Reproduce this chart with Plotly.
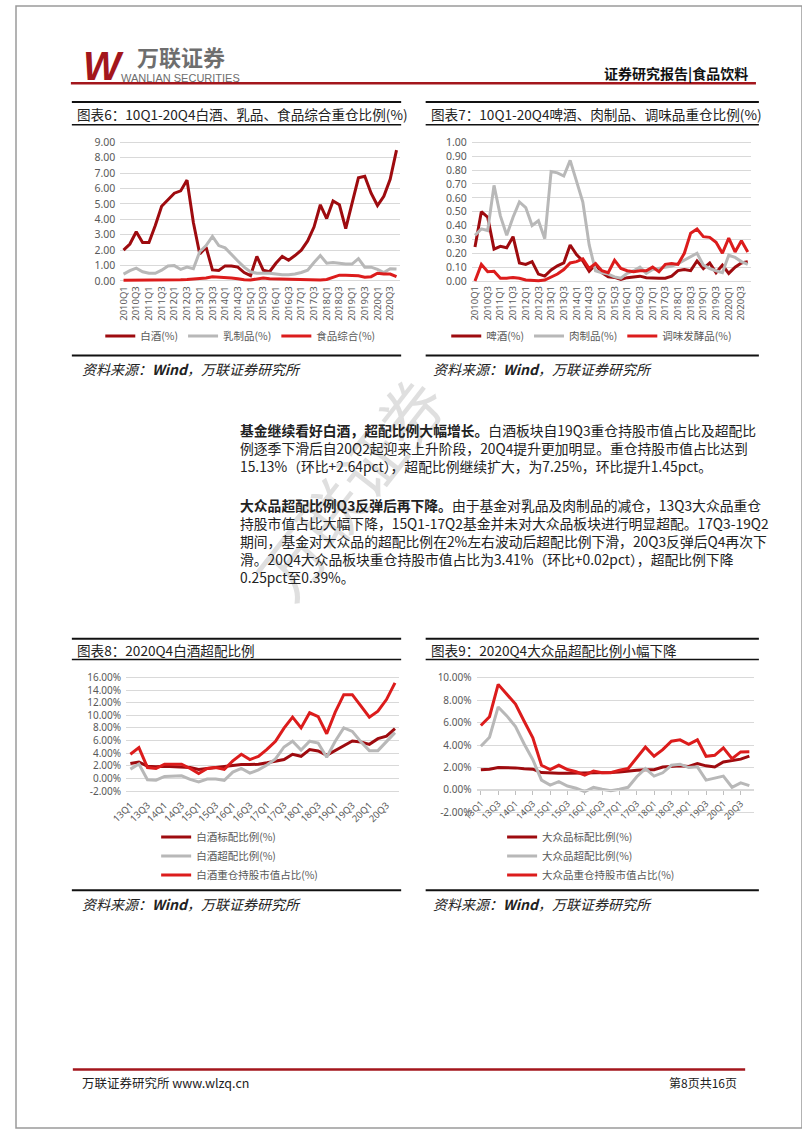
import plotly.graph_objects as go

W, H = 802, 1133
def fx(px): return px / W
def fy(py): return 1 - py / H

FONT = "Noto Sans CJK SC, Noto Sans, sans-serif"
NUMFONT = "Noto Sans, DejaVu Sans, sans-serif"
DARK = "#9E0B0F"
RED = "#DC1C1C"
GRAY = "#B8B8B8"
GRID = "#D9D9D9"
TXT = "#595959"

# ---------------- data ----------------
quarters_6 = [f"{y}Q{q}" for y in range(2010, 2021) for q in range(1, 5)]
xticks_6 = quarters_6[::2]

baijiu_6 = [2.0, 2.4, 3.2, 2.5, 2.5, 3.6, 4.85, 5.3, 5.7, 5.85, 6.55, 3.8, 1.75, 2.2, 0.72, 0.68,
            0.98, 0.98, 0.9, 0.55, 0.35, 1.6, 0.7, 0.6, 1.15, 1.6, 1.35, 1.65, 2.0, 2.6, 3.5, 4.95,
            4.05, 5.2, 4.95, 3.4, 5.0, 6.7, 6.8, 5.7, 4.9, 5.5, 6.6, 8.5]
dairy_6 = [0.45, 0.67, 0.83, 0.6, 0.5, 0.5, 0.7, 0.98, 1.0, 0.75, 0.9, 0.8, 1.9, 2.3, 2.9, 2.3,
           2.15, 1.7, 1.3, 0.9, 0.6, 0.5, 0.5, 0.5, 0.45, 0.4, 0.4, 0.45, 0.55, 0.7, 1.2, 1.65,
           1.15, 1.2, 1.15, 1.1, 1.1, 1.45, 0.9, 0.9, 0.75, 0.55, 0.8, 0.78]
food_6 = [0.05, 0.05, 0.05, 0.05, 0.05, 0.06, 0.06, 0.07, 0.08, 0.08, 0.1, 0.12, 0.15, 0.2, 0.28, 0.26,
          0.22, 0.2, 0.15, 0.08, 0.06, 0.15, 0.2, 0.15, 0.14, 0.12, 0.11, 0.1, 0.08, 0.07, 0.07, 0.07,
          0.1, 0.25, 0.38, 0.37, 0.36, 0.34, 0.25, 0.28, 0.5, 0.45, 0.45, 0.28]

beer_7 = [0.245, 0.5, 0.46, 0.23, 0.25, 0.24, 0.32, 0.13, 0.12, 0.14, 0.05, 0.035, 0.08, 0.11, 0.13, 0.26,
          0.19, 0.145, 0.07, 0.12, 0.06, 0.03, 0.026, 0.012, 0.024, 0.03, 0.035, 0.024, 0.02, 0.02, 0.02, 0.035,
          0.075, 0.083, 0.075, 0.145, 0.09, 0.13, 0.06, 0.115, 0.055, 0.1, 0.13, 0.14]
meat_7 = [0.33, 0.376, 0.364, 0.69, 0.47, 0.33, 0.46, 0.57, 0.53, 0.4, 0.435, 0.305, 0.79, 0.78, 0.757, 0.87,
          0.72, 0.57, 0.26, 0.074, 0.06, 0.05, 0.03, 0.02, 0.055, 0.074, 0.1, 0.055, 0.083, 0.09, 0.1, 0.107,
          0.126, 0.15, 0.17, 0.2, 0.114, 0.09, 0.074, 0.06, 0.186, 0.17, 0.14, 0.12]
season_7 = [0.0, 0.12, 0.067, 0.07, 0.02, 0.02, 0.026, 0.02, 0.007, 0.002, 0.002, 0.007, 0.026, 0.05, 0.083, 0.13,
            0.14, 0.16, 0.09, 0.126, 0.074, 0.06, 0.15, 0.09, 0.074, 0.067, 0.074, 0.074, 0.1, 0.067, 0.12, 0.126,
            0.12, 0.2, 0.345, 0.375, 0.32, 0.315, 0.28, 0.2, 0.31, 0.21, 0.29, 0.21]

quarters_8 = [f"{y}Q{q}" for y in range(13, 21) for q in range(1, 5)]
xticks_8 = quarters_8[::2]

baijiu_std_8 = [2.36, 2.6, 1.94, 1.84, 1.94, 1.84, 1.84, 1.73, 1.42, 1.57, 1.73, 1.84, 1.94, 2.2, 2.2, 2.25,
                2.47, 2.78, 2.99, 3.83, 3.5, 4.56, 4.35, 3.67, 4.46, 5.25, 5.93, 5.77, 5.4, 6.3, 6.69, 7.88]
baijiu_over_8 = [1.47, 2.28, -0.21, -0.27, 0.31, 0.41, 0.41, -0.16, -0.55, -0.1, -0.1, -0.3, 1.0, 1.6, 0.85, 1.35,
                 2.13, 3.1, 4.98, 5.9, 4.5, 5.9, 5.6, 3.35, 5.9, 8.0, 7.45, 5.8, 4.4, 4.4, 5.8, 7.25]
baijiu_hold_8 = [3.83, 4.88, 1.73, 1.57, 2.25, 2.25, 2.25, 1.57, 0.79, 1.57, 1.73, 1.42, 2.78, 3.83, 2.99, 3.5,
                 4.6, 5.88, 7.97, 9.7, 8.0, 10.4, 9.8, 7.08, 10.5, 13.27, 13.27, 11.5, 9.7, 10.65, 12.49, 15.13]

mass_std_9 = [1.8, 1.85, 2.0, 2.0, 1.97, 1.9, 1.85, 1.55, 1.5, 1.5, 1.5, 1.5, 1.5, 1.5, 1.5, 1.55,
              1.6, 1.7, 1.75, 1.8, 1.8, 2.05, 2.1, 2.15, 2.1, 2.35, 2.15, 2.05, 2.5, 2.65, 2.75, 3.02]
mass_over_9 = [3.9, 4.7, 7.4, 6.6, 5.65, 4.1, 2.7, 0.88, 0.44, 0.74, 0.35, 0.15, -0.15, 0.24, 0.06, -0.06,
               0.06, 0.24, 1.18, 1.91, 1.24, 1.53, 2.2, 2.3, 2.0, 2.06, 0.88, 1.03, 1.24, 0.24, 0.64, 0.39]
mass_hold_9 = [5.74, 6.53, 9.41, 8.53, 7.65, 6.12, 4.65, 2.2, 1.82, 2.2, 1.82, 1.62, 1.32, 1.68, 1.53, 1.53,
               1.76, 1.91, 2.88, 3.82, 3.0, 3.59, 4.35, 4.47, 4.06, 4.47, 3.0, 3.09, 3.76, 2.79, 3.39, 3.41]

y6_vals = [0, 1, 2, 3, 4, 5, 6, 7, 8, 9]
y6_text = ["0.00", "1.00", "2.00", "3.00", "4.00", "5.00", "6.00", "7.00", "8.00", "9.00"]
y7_vals = [0, 0.1, 0.2, 0.3, 0.4, 0.5, 0.6, 0.7, 0.8, 0.9, 1.0]
y7_text = ["0.00", "0.10", "0.20", "0.30", "0.40", "0.50", "0.60", "0.70", "0.80", "0.90", "1.00"]
y8_vals = [-2, 0, 2, 4, 6, 8, 10, 12, 14, 16]
y8_text = ["-2.00%", "0.00%", "2.00%", "4.00%", "6.00%", "8.00%", "10.00%", "12.00%", "14.00%", "16.00%"]
y9_vals = [-2, 0, 2, 4, 6, 8, 10]
y9_text = ["-2.00%", "0.00%", "2.00%", "4.00%", "6.00%", "8.00%", "10.00%"]

fig = go.Figure()

def add(x, y, name, color, xa, ya, lg):
    fig.add_trace(go.Scatter(x=x, y=y, name=name, mode="lines",
                             line=dict(color=color, width=3), xaxis=xa, yaxis=ya,
                             legend=lg, hoverinfo="skip"))

add(quarters_6, baijiu_6, "白酒(%)", DARK, "x", "y", "legend")
add(quarters_6, dairy_6, "乳制品(%)", GRAY, "x", "y", "legend")
add(quarters_6, food_6, "食品综合(%)", RED, "x", "y", "legend")

add(quarters_6, beer_7, "啤酒(%)", DARK, "x2", "y2", "legend2")
add(quarters_6, meat_7, "肉制品(%)", GRAY, "x2", "y2", "legend2")
add(quarters_6, season_7, "调味发酵品(%)", RED, "x2", "y2", "legend2")

add(quarters_8, baijiu_std_8, "白酒标配比例(%)", DARK, "x3", "y3", "legend3")
add(quarters_8, baijiu_over_8, "白酒超配比例(%)", GRAY, "x3", "y3", "legend3")
add(quarters_8, baijiu_hold_8, "白酒重仓持股市值占比(%)", RED, "x3", "y3", "legend3")

add(quarters_8, mass_std_9, "大众品标配比例(%)", DARK, "x4", "y4", "legend4")
add(quarters_8, mass_over_9, "大众品超配比例(%)", GRAY, "x4", "y4", "legend4")
add(quarters_8, mass_hold_9, "大众品重仓持股市值占比(%)", RED, "x4", "y4", "legend4")

def xax(x0, x1, ticks_list, n, angle, anchor, size, **kw):
    d = dict(domain=[fx(x0), fx(x1)], type="category", range=[-0.5, n - 0.5],
             tickmode="array", tickvals=ticks_list, ticktext=ticks_list,
             tickangle=angle, tickfont=dict(family=NUMFONT, size=size, color=TXT),
             showgrid=False, zeroline=False, showline=False, ticks="",
             anchor=anchor, fixedrange=True)
    d.update(kw)
    return d

def yax(ytop, ybot, rng, vals, text, anchor, size=10.5):
    return dict(domain=[fy(ybot), fy(ytop)], range=rng, tickmode="array",
                tickvals=vals, ticktext=text, showgrid=True, gridcolor=GRID, gridwidth=1,
                zeroline=False, showline=False, ticks="", ticklabelstandoff=4,
                tickfont=dict(family=NUMFONT, size=size, color=TXT), anchor=anchor, fixedrange=True)

layout = dict(
    width=W, height=H, margin=dict(l=0, r=0, t=0, b=0),
    paper_bgcolor="white", plot_bgcolor="white", showlegend=True,
    font=dict(family=FONT, color=TXT),
    xaxis=xax(106.5, 391.5, xticks_6, 44, -90, "y", 9.5),
    yaxis=yax(135.37, 280.03, [-0.15, 9.15], y6_vals, y6_text, "x"),
    xaxis2=xax(465.1, 749.9, xticks_6, 44, -90, "y2", 9.5),
    yaxis2=yax(135.6, 279.8, [-0.015, 1.015], y7_vals, y7_text, "x2"),
    xaxis3=xax(112.35, 391.05, xticks_8, 32, -45, "y3", 9.5, ticklabelstandoff=4),
    yaxis3=yax(676.09, 794.66, [-2.3, 16.3], y8_vals, y8_text, "x3", 10),
    xaxis4=xax(469.9, 752.7, xticks_8, 32, -45, "free", 9, position=fy(791.67),
               showline=True, linecolor=GRID, ticks="outside", ticklen=4, tickcolor="#BFBFBF"),
    yaxis4=yax(676.07, 816.6, [-2.2, 10.2], y9_vals, y9_text, "x4", 10),
)

def leg(x, y, orient):
    return dict(x=fx(x), y=fy(y), xanchor="left", yanchor="top", orientation=orient,
                bgcolor="rgba(0,0,0,0)", borderwidth=0, traceorder="normal",
                font=dict(family=FONT, size=10.5, color=TXT))

layout["legend"] = leg(86, 318.5, "h")
layout["legend2"] = leg(439, 318.5, "h")
layout["legend3"] = leg(143, 824.5, "v")
layout["legend4"] = leg(496, 824.5, "v")

fig.update_layout(**layout)

shapes = []
def hline(x0, x1, y, color="#111111", w=2):
    shapes.append(dict(type="line", xref="paper", yref="paper", x0=fx(x0), x1=fx(x1),
                       y0=fy(y), y1=fy(y), line=dict(color=color, width=w)))

# page border
shapes.append(dict(type="rect", xref="paper", yref="paper", x0=0, x1=1, y0=0, y1=1,
                   line=dict(color="#9a9a9a", width=1.5)))
# header / footer rules
hline(56, 755, 78, "#A3161C", 2.5)
hline(58, 744, 1074, "#A3161C", 2.5)
# chart frames
for (a, b) in [(57, 393), (418, 758)]:
    hline(a, b, 97, "#111111", 2)
    hline(a, b, 120, "#111111", 1.5)
    hline(a, b, 353, "#111111", 2)
    hline(a, b, 639, "#111111", 2)
    hline(a, b, 660, "#111111", 1.5)
    hline(a, b, 893, "#111111", 2)

ann = []
def text(x, y, s, size, color="#222222", anchor="left", family=FONT, angle=0, yanchor="middle", align="left"):
    ann.append(dict(xref="paper", yref="paper", x=fx(x), y=fy(y), text=s, showarrow=False,
                    xanchor=anchor, yanchor=yanchor, textangle=angle, borderpad=0, align=align,
                    font=dict(family=family, size=size, color=color)))

# header
text(89, 61, "<b><i>W</i></b>", 40, "#A3161C", "center", "Liberation Sans, Arial, sans-serif")
text(168, 50.5, "<b>万联证券</b>", 22, "#6e6e6e", "center")
text(168, 72.5, "WANLIAN SECURITIES", 11, "#6e6e6e", "center",
     "Liberation Sans Narrow, Liberation Sans, sans-serif")
text(748, 68, "<b>证券研究报告|食品饮料</b>", 14, "#111111", "right")

# watermark
text(340, 485, "万联证券", 64, "rgba(170,170,170,0.38)", "center", angle=-52)

# chart titles
text(61, 109, "图表6：10Q1-20Q4白酒、乳品、食品综合重仓比例(%)", 13.6)
text(422, 109, "图表7：10Q1-20Q4啤酒、肉制品、调味品重仓比例(%)", 13.6)
text(61, 650, "图表8：2020Q4白酒超配比例", 13.6)
text(422, 650, "图表9：2020Q4大众品超配比例小幅下降", 13.6)

src = "<i>资料来源：<b>Wind</b>，万联证券研究所</i>"
text(66, 367, src, 14)
text(424, 367, src, 14)
text(66, 907, src, 14)
text(424, 907, src, 14)

# paragraphs
para1 = ("<b>基金继续看好白酒，超配比例大幅增长。</b>白酒板块自19Q3重仓持股市值占比及超配比<br>"
         "例逐季下滑后自20Q2起迎来上升阶段，20Q4提升更加明显。重仓持股市值占比达到<br>"
         "15.13%（环比+2.64pct），超配比例继续扩大，为7.25%，环比提升1.45pct。")
para2 = ("<b>大众品超配比例Q3反弹后再下降。</b>由于基金对乳品及肉制品的减仓，13Q3大众品重仓<br>"
         "持股市值占比大幅下降，15Q1-17Q2基金并未对大众品板块进行明显超配。17Q3-19Q2<br>"
         "期间，基金对大众品的超配比例在2%左右波动后超配比例下滑，20Q3反弹后Q4再次下<br>"
         "滑。20Q4大众品板块重仓持股市值占比为3.41%（环比+0.02pct），超配比例下降<br>"
         "0.25pct至0.39%。")
text(228, 446.5, para1, 13.8, "#222222")
text(228, 540.5, para2, 13.8, "#222222")

# footer
text(66, 1087, "万联证券研究所 www.wlzq.cn", 12.5, "#222222")
text(737, 1087, "第8页共16页", 12, "#222222", "right")

fig.update_layout(shapes=shapes, annotations=ann)
fig.write_html("out.html")
